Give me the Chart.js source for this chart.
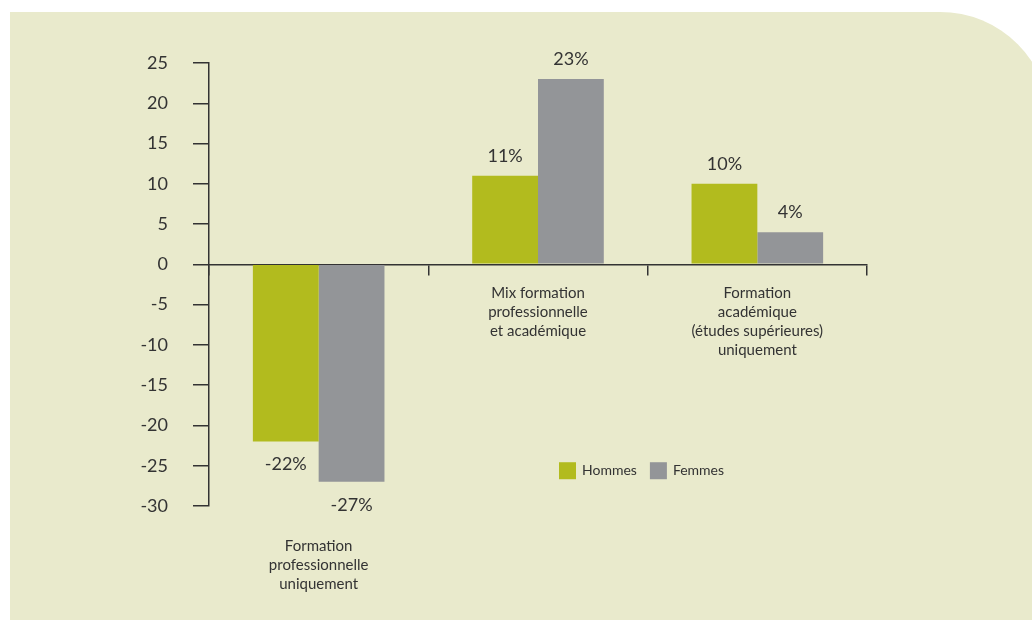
<!DOCTYPE html>
<html>
<head>
<meta charset="utf-8">
<script src="https://cdn.jsdelivr.net/npm/chart.js@4/dist/chart.umd.min.js"></script>
<style>
  html, body { margin: 0; padding: 0; background: #fff; }
  #wrap { width: 1032px; height: 621px; position: relative; }
</style>
</head>
<body>
<div id="wrap"><canvas id="chart" width="1032" height="621"></canvas></div>
<script>
const categories = [
    ['Formation', 'professionnelle', 'uniquement'],
    ['Mix formation', 'professionnelle', 'et académique'],
    ['Formation', 'académique', '(études supérieures)', 'uniquement']
];
const hommes = [-22, 11, 10];
const femmes = [-27, 23, 4];
const seriesNames = ['Hommes', 'Femmes'];
const seriesColors = ['#b2bb1e', '#939598'];
const yMin = -30;
const yMax = 25;
const yStep = 5;

const textColor = '#333333';
const fontFamily = 'Lato, "Open Sans", sans-serif';

// beige panel with a rounded top-right corner
const panelPlugin = {
    id: 'panel',
    beforeDraw(chart) {
        const ctx = chart.ctx;
        ctx.save();
        ctx.fillStyle = '#ffffff';
        ctx.fillRect(0, 0, chart.width, chart.height);
        ctx.fillStyle = '#e9eacc';
        ctx.beginPath();
        ctx.roundRect(10, 12, 1040, 608, [0, 110, 0, 0]);
        ctx.fill();
        ctx.restore();
    }
};

// value labels above / below each bar
const valueLabels = {
    id: 'valueLabels',
    afterDatasetsDraw(chart) {
        const ctx = chart.ctx;
        ctx.save();
        ctx.font = '18px ' + fontFamily;
        ctx.fillStyle = textColor;
        ctx.textAlign = 'center';
        ctx.textBaseline = 'middle';
        chart.data.datasets.forEach((ds, di) => {
            chart.getDatasetMeta(di).data.forEach((bar, i) => {
                const v = ds.data[i];
                const y = v >= 0 ? bar.y - 20 : bar.y + 23;
                ctx.fillText(v + '%', bar.x, y);
            });
        });
        ctx.restore();
    }
};

// multi-line category names; negative groups get theirs under the axis
const categoryLabels = {
    id: 'categoryLabels',
    afterDraw(chart) {
        const ctx = chart.ctx;
        const xs = chart.scales.x;
        const ys = chart.scales.y;
        ctx.save();
        ctx.font = '15px ' + fontFamily;
        ctx.fillStyle = textColor;
        ctx.textAlign = 'center';
        ctx.textBaseline = 'middle';
        categories.forEach((lines, i) => {
            const x = xs.getPixelForValue(i);
            const negative = hommes[i] < 0 && femmes[i] < 0;
            const top = negative ? ys.getPixelForValue(yMin) + 40 : ys.getPixelForValue(0) + 29;
            lines.forEach((line, k) => ctx.fillText(line, x, top + k * 19));
        });
        ctx.restore();
    }
};

const boxLegend = {
    id: 'boxLegend',
    afterDraw(chart) {
        const ctx = chart.ctx;
        const area = chart.chartArea;
        const y = chart.scales.y.getPixelForValue(-25) + 5;
        let x = area.left + 350;
        ctx.save();
        ctx.font = '14px ' + fontFamily;
        ctx.textBaseline = 'middle';
        ctx.textAlign = 'left';
        seriesNames.forEach((name, i) => {
            ctx.fillStyle = seriesColors[i];
            ctx.fillRect(x, y - 8.5, 17, 17);
            ctx.fillStyle = textColor;
            ctx.fillText(name, x + 23, y);
            x += 23 + ctx.measureText(name).width + 13;
        });
        ctx.restore();
    }
};

new Chart(document.getElementById('chart'), {
    type: 'bar',
    data: {
        labels: categories,
        datasets: [
            { label: seriesNames[0], data: hommes, backgroundColor: seriesColors[0], borderWidth: 0 },
            { label: seriesNames[1], data: femmes, backgroundColor: seriesColors[1], borderWidth: 0 }
        ]
    },
    options: {
        responsive: false,
        animation: false,
        layout: { padding: { top: 63, bottom: 115, right: 165, left: 0 } },
        datasets: { bar: { categoryPercentage: 0.6, barPercentage: 1.0 } },
        plugins: {
            legend: { display: false },
            tooltip: { enabled: false }
        },
        scales: {
            x: {
                position: { y: 0 },
                offset: true,
                ticks: { display: false },
                grid: {
                    offset: true,
                    drawOnChartArea: false,
                    drawTicks: true,
                    tickLength: 10,
                    color: textColor,
                    lineWidth: 1.5
                },
                border: { display: true, color: textColor, width: 1.5 }
            },
            y: {
                min: yMin,
                max: yMax,
                afterFit(scale) { scale.width = 209; },
                ticks: {
                    stepSize: yStep,
                    padding: 25,
                    color: textColor,
                    font: { family: fontFamily, size: 18 }
                },
                grid: {
                    drawOnChartArea: false,
                    drawTicks: true,
                    tickLength: 16,
                    color: textColor,
                    lineWidth: 1.5
                },
                border: { display: true, color: textColor, width: 1.5 }
            }
        }
    },
    plugins: [panelPlugin, valueLabels, categoryLabels, boxLegend]
});
</script>
</body>
</html>
